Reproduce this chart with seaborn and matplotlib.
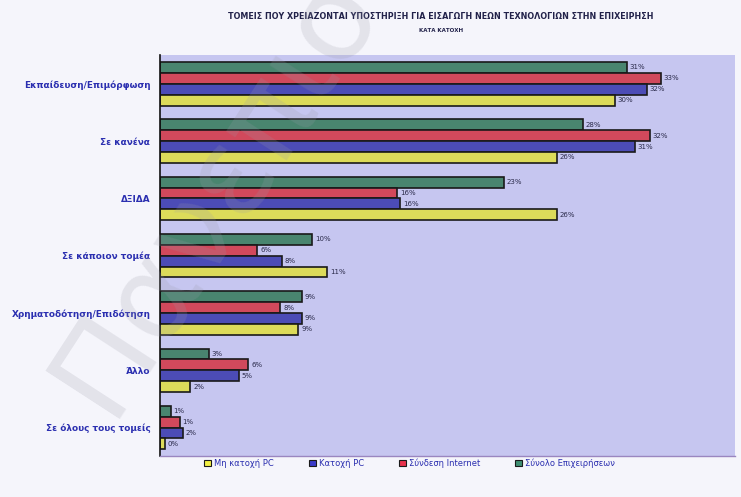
import matplotlib
matplotlib.use("Agg")
import matplotlib.pyplot as plt
from matplotlib.patches import Patch
import numpy as np
import pandas as pd
import seaborn as sns

categories = [
    "Εκπαίδευση/Επιμόρφωση",
    "Σε κανένα",
    "ΔΞΙΔΑ",
    "Σε κάποιον τομέα",
    "Χρηματοδότηση/Επιδότηση",
    "Άλλο",
    "Σε όλους τους τομείς",
]
series_names = ["Σύνολο Επιχειρήσεων", "Σύνδεση Internet", "Κατοχή PC", "Μη κατοχή PC"]
total_firms = [30.7, 27.8, 22.6, 10.0, 9.3, 3.2, 0.7]
internet = [32.9, 32.2, 15.6, 6.4, 7.9, 5.8, 1.3]
pc_owned = [32.0, 31.2, 15.8, 8.0, 9.3, 5.2, 1.5]
no_pc = [29.9, 26.1, 26.1, 11.0, 9.1, 2.0, 0.3]
colors = ["#3f8f72", "#e8324c", "#3a3ac8", "#f2f044"]

rows = []
for name, vals in zip(series_names, [total_firms, internet, pc_owned, no_pc]):
    for cat, v in zip(categories, vals):
        rows.append({"category": cat, "series": name, "value": v})
df = pd.DataFrame(rows)

sns.set_theme(style="white")
plt.rcParams["font.family"] = ["DejaVu Sans"]

fig = plt.figure(figsize=(7.41, 4.97), dpi=100)
fig.patch.set_facecolor("#f5f5fb")
ax = fig.add_axes([0.216, 0.082, 0.776, 0.807])
ax.set_facecolor("#c6c6f0")

sns.barplot(data=df, y="category", x="value", hue="series", order=categories,
            hue_order=series_names, palette=colors, orient="h", width=0.76,
            edgecolor="#1a1a1a", linewidth=1.2, legend=False, ax=ax)

for cont in ax.containers:
    ax.bar_label(cont, labels=[f"{v:.0f}%" for v in cont.datavalues],
                 padding=2, fontsize=5, color="#2a2a4a")

ax.set_xlim(0, 37.8)
ax.set_ylim(len(categories) - 0.5, -0.5)
ax.set_xlabel("")
ax.set_ylabel("")
ax.set_xticks([])
ax.set_yticks(range(len(categories)))
ax.set_yticklabels(categories, fontsize=6.4, color="#2b2fb0", fontweight="bold")
ax.tick_params(axis="y", which="major", length=0, pad=7)
ax.set_yticks(np.arange(-0.5, len(categories) + 0.5, 1), minor=True)
ax.tick_params(axis="y", which="minor", length=4, width=1, color="#111111", direction="out")

for side in ["top", "right"]:
    ax.spines[side].set_visible(False)
ax.spines["left"].set_color("#111111")
ax.spines["left"].set_linewidth(1.2)
ax.spines["bottom"].set_color("#9a86c0")
ax.spines["bottom"].set_linewidth(1)

fig.text(0.595, 0.967, "ΤΟΜΕΙΣ ΠΟΥ ΧΡΕΙΑΖΟΝΤΑΙ ΥΠΟΣΤΗΡΙΞΗ ΓΙΑ ΕΙΣΑΓΩΓΗ ΝΕΩΝ ΤΕΧΝΟΛΟΓΙΩΝ ΣΤΗΝ ΕΠΙΧΕΙΡΗΣΗ",
         ha="center", va="center", fontsize=5.8, color="#22224a", fontweight="bold")
fig.text(0.595, 0.938, "ΚΑΤΑ ΚΑΤΟΧΗ", ha="center", va="center", fontsize=4,
         color="#22224a", fontweight="bold")

legend_order = [3, 2, 1, 0]
handles = [Patch(facecolor=colors[i], edgecolor="#1a1a1a", linewidth=0.8) for i in legend_order]
labels = [series_names[i] for i in legend_order]
fig.legend(handles, labels, loc="center", bbox_to_anchor=(0.553, 0.068), ncol=4,
           frameon=False, fontsize=6, handlelength=0.8, handleheight=0.8,
           handletextpad=0.4, columnspacing=4.2, labelcolor="#2b2fb0")

fig.text(0.035, 0.13, "Πανεπιστήμ", rotation=57, fontsize=88, color="#9a9aa8",
         alpha=0.2, ha="left", va="bottom", family="DejaVu Sans")

fig.savefig("out.png", dpi=100, facecolor=fig.get_facecolor())
